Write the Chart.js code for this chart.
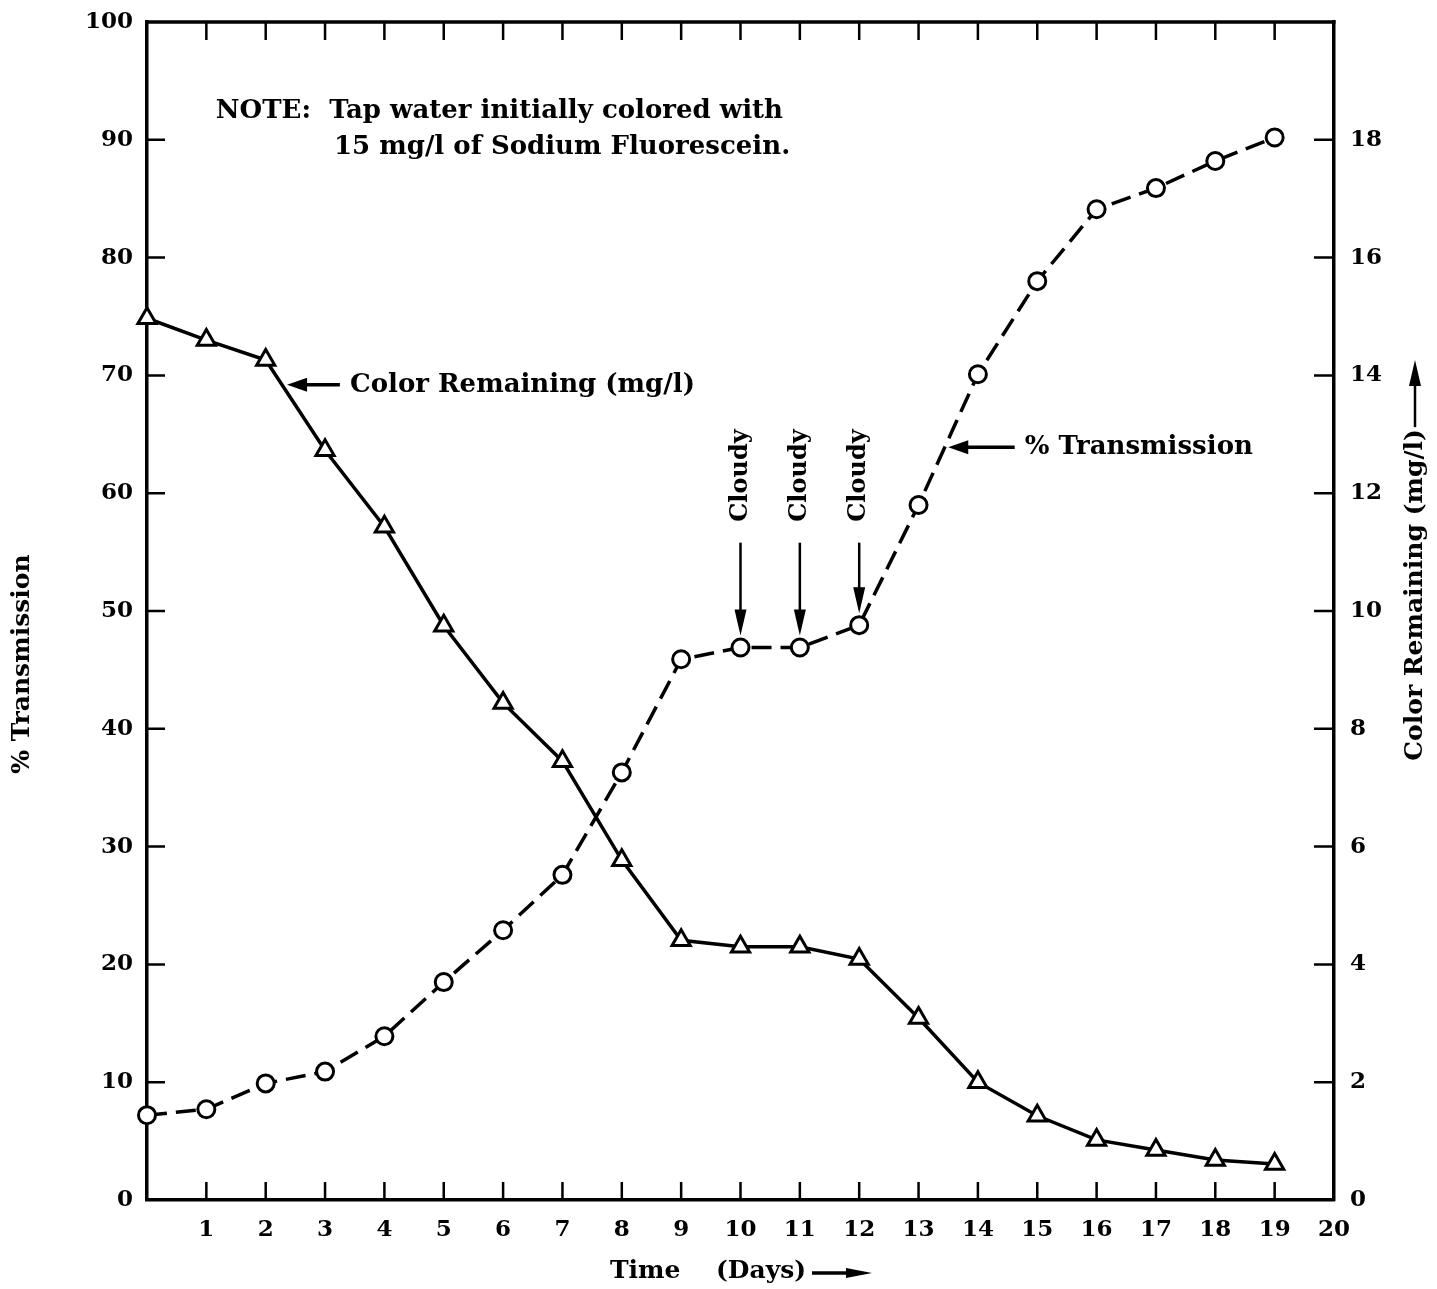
<!DOCTYPE html>
<html>
<head>
<meta charset="utf-8">
<script src="https://cdn.jsdelivr.net/npm/chart.js@4.4.1/dist/chart.umd.min.js"></script>
<style>
  html, body { margin: 0; padding: 0; background: #fff; }
  canvas { display: block; }
</style>
</head>
<body>
<canvas id="chart" width="1437" height="1289"></canvas>
<script>
// 日数
const days = [0, 1, 2, 3, 4, 5, 6, 7, 8, 9, 10, 11, 12, 13, 14, 15, 16, 17, 18, 19];
// % Transmission (左軸)
const transmission = [7.2, 7.7, 9.9, 10.9, 13.9, 18.5, 22.9, 27.6, 36.3, 45.9, 46.9, 46.9, 48.8, 59.0, 70.1, 78.0, 84.1, 85.9, 88.2, 90.2];
// Color Remaining mg/l (右軸)
const colorRemaining = [14.97, 14.6, 14.26, 12.73, 11.43, 9.75, 8.44, 7.45, 5.77, 4.41, 4.3, 4.3, 4.09, 3.09, 2.0, 1.43, 1.02, 0.85, 0.68, 0.61];
// 目盛り
const xTicks = [1, 2, 3, 4, 5, 6, 7, 8, 9, 10, 11, 12, 13, 14, 15, 16, 17, 18, 19, 20];
const leftTicks = [0, 10, 20, 30, 40, 50, 60, 70, 80, 90, 100];
const rightTicks = [0, 2, 4, 6, 8, 10, 12, 14, 16, 18];
const cloudyDays = [10, 11, 12];

const FONT = 'DejaVu Serif';
const tickFont = { family: FONT, size: 23, weight: 'bold' };

function arrowHead(ctx, x, y, dx, dy, len, half) {
    // (x,y)が先端、(dx,dy)が向き
    ctx.beginPath();
    ctx.moveTo(x, y);
    ctx.lineTo(x - dx * len - dy * half, y - dy * len + dx * half);
    ctx.lineTo(x - dx * len + dy * half, y - dy * len - dx * half);
    ctx.closePath();
    ctx.fill();
}

// 縦軸のラベル分の余白を小さくする(枠の位置を合わせるため)
function fitVertical(width) {
    return s => {
        s.width = width;
        s.paddingTop = 10;
        s.paddingBottom = 10;
    };
}

const decorPlugin = {
    id: 'decor',
    afterDraw(chart) {
        const ctx = chart.ctx;
        const x = chart.scales.x, y = chart.scales.y, y2 = chart.scales.y2;
        const area = chart.chartArea;
        ctx.save();
        ctx.strokeStyle = '#000';
        ctx.fillStyle = '#000';

        // 上の枠線
        ctx.lineWidth = 3.5;
        ctx.beginPath();
        ctx.moveTo(area.left - 1.5, area.top);
        ctx.lineTo(area.right + 1.5, area.top);
        ctx.stroke();

        // 内向きの目盛り
        ctx.lineWidth = 2.5;
        ctx.beginPath();
        xTicks.slice(0, -1).forEach(d => {
            const px = x.getPixelForValue(d);
            ctx.moveTo(px, area.bottom); ctx.lineTo(px, area.bottom - 18);
            ctx.moveTo(px, area.top); ctx.lineTo(px, area.top + 18);
        });
        leftTicks.slice(1, -1).forEach(v => {
            const py = y.getPixelForValue(v);
            ctx.moveTo(area.left, py); ctx.lineTo(area.left + 18, py);
        });
        rightTicks.slice(1).forEach(v => {
            const py = y2.getPixelForValue(v);
            ctx.moveTo(area.right, py); ctx.lineTo(area.right - 20, py);
        });
        ctx.stroke();

        // 注記
        ctx.font = 'bold 26px ' + FONT;
        ctx.textBaseline = 'middle';
        ctx.textAlign = 'left';
        ctx.fillText('NOTE:  Tap water initially colored with', x.getPixelForValue(1.16), y.getPixelForValue(92.4));
        ctx.fillText('15 mg/l of Sodium Fluorescein.', x.getPixelForValue(3.15), y.getPixelForValue(89.4));

        // Color Remaining の矢印
        ctx.lineWidth = 3.5;
        let ay = y.getPixelForValue(69.2);
        let tip = x.getPixelForValue(2.36), tail = x.getPixelForValue(3.25);
        ctx.beginPath(); ctx.moveTo(tail, ay); ctx.lineTo(tip + 10, ay); ctx.stroke();
        arrowHead(ctx, tip, ay, -1, 0, 20, 7);
        ctx.fillText('Color Remaining (mg/l)', x.getPixelForValue(3.42), ay);

        // % Transmission の矢印
        ay = y.getPixelForValue(63.9);
        tip = x.getPixelForValue(13.5); tail = x.getPixelForValue(14.62);
        ctx.beginPath(); ctx.moveTo(tail, ay); ctx.lineTo(tip + 10, ay); ctx.stroke();
        arrowHead(ctx, tip, ay, -1, 0, 20, 7);
        ctx.fillText('% Transmission', x.getPixelForValue(14.79), ay);

        // Cloudy
        ctx.font = 'bold 24px ' + FONT;
        cloudyDays.forEach(d => {
            const px = x.getPixelForValue(d);
            const pt = y.getPixelForValue(transmission[days.indexOf(d)]);
            ctx.save();
            ctx.translate(px, y.getPixelForValue(61.5));
            ctx.rotate(-Math.PI / 2);
            ctx.textAlign = 'center';
            ctx.fillText('Cloudy', 0, 0);
            ctx.restore();
            const top = y.getPixelForValue(55.8);
            const tipY = pt - 12;
            ctx.lineWidth = 2.5;
            ctx.beginPath(); ctx.moveTo(px, top); ctx.lineTo(px, tipY - 12); ctx.stroke();
            arrowHead(ctx, px, tipY, 0, 1, 26, 6);
        });

        // 軸タイトル
        ctx.font = 'bold 25px ' + FONT;
        ctx.save();
        ctx.translate(22, y.getPixelForValue(45.5));
        ctx.rotate(-Math.PI / 2);
        ctx.textAlign = 'center';
        ctx.fillText('% Transmission', 0, 0);
        ctx.restore();

        ctx.save();
        ctx.translate(1415, 595);
        ctx.rotate(-Math.PI / 2);
        ctx.textAlign = 'center';
        ctx.fillText('Color Remaining (mg/l)', 0, 0);
        const half = ctx.measureText('Color Remaining (mg/l)').width / 2;
        ctx.lineWidth = 2.5;
        ctx.beginPath(); ctx.moveTo(half + 2, 0); ctx.lineTo(215, 0); ctx.stroke();
        arrowHead(ctx, 235, 0, 1, 0, 26, 6);
        ctx.restore();

        ctx.textAlign = 'left';
        ctx.fillText('Time', 610, 1271);
        ctx.fillText('(Days)', 716, 1271);
        ctx.lineWidth = 3.5;
        ctx.beginPath(); ctx.moveTo(812, 1273); ctx.lineTo(850, 1273); ctx.stroke();
        arrowHead(ctx, 872, 1273, 1, 0, 26, 5);

        ctx.restore();
    }
};

new Chart(document.getElementById('chart').getContext('2d'), {
    type: 'line',
    data: {
        datasets: [
            {
                label: '% Transmission',
                data: days.map((d, i) => ({ x: d, y: transmission[i] })),
                yAxisID: 'y',
                borderColor: '#000',
                borderWidth: 3.5,
                borderDash: [20, 9],
                tension: 0,
                pointStyle: 'circle',
                pointRadius: 8.5,
                pointBorderWidth: 3,
                pointBorderColor: '#000',
                pointBackgroundColor: '#fff',
                clip: false
            },
            {
                label: 'Color Remaining (mg/l)',
                data: days.map((d, i) => ({ x: d, y: colorRemaining[i] })),
                yAxisID: 'y2',
                borderColor: '#000',
                borderWidth: 3.5,
                tension: 0,
                pointStyle: 'triangle',
                pointRadius: 10.5,
                pointBorderWidth: 3,
                pointBorderColor: '#000',
                pointBackgroundColor: '#fff',
                clip: false
            }
        ]
    },
    options: {
        responsive: false,
        animation: false,
        devicePixelRatio: 1,
        layout: { padding: { top: 22, left: 0, right: 0, bottom: 0 } },
        plugins: { legend: { display: false }, tooltip: { enabled: false } },
        scales: {
            x: {
                type: 'linear',
                position: 'bottom',
                min: 0, max: 20,
                grid: { display: false, drawTicks: false },
                border: { display: true, width: 3.5, color: '#000' },
                ticks: {
                    stepSize: 1,
                    autoSkip: false,
                    maxRotation: 0,
                    color: '#000',
                    font: tickFont,
                    padding: 16,
                    callback: v => xTicks.includes(v) ? String(v) : ''
                },
                afterFit: s => { s.height = 89; }
            },
            y: {
                position: 'left',
                min: 0, max: 100,
                grid: { display: false, drawTicks: false },
                border: { display: true, width: 3.5, color: '#000' },
                ticks: {
                    stepSize: 10,
                    color: '#000',
                    font: tickFont,
                    padding: 14,
                    callback: v => leftTicks.includes(v) ? String(v) : ''
                },
                afterFit: fitVertical(147)
            },
            y2: {
                position: 'right',
                min: 0, max: 20,
                grid: { display: false, drawTicks: false },
                border: { display: true, width: 3.5, color: '#000' },
                ticks: {
                    stepSize: 2,
                    color: '#000',
                    font: tickFont,
                    padding: 16,
                    callback: v => rightTicks.includes(v) ? String(v) : ''
                },
                afterFit: fitVertical(103)
            }
        }
    },
    plugins: [decorPlugin]
});
</script>
</body>
</html>
